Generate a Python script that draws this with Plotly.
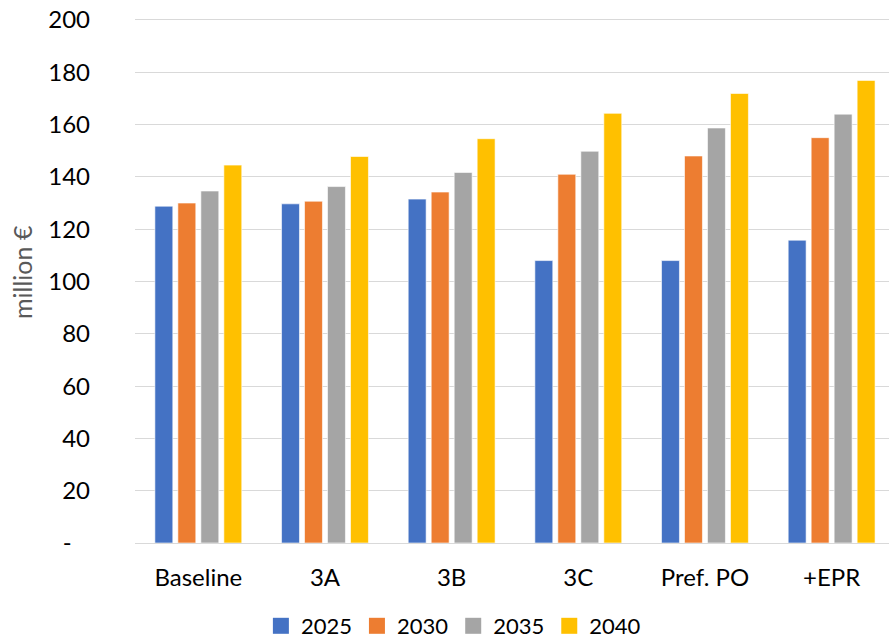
import plotly.graph_objects as go

categories = ["Baseline", "3A", "3B", "3C", "Pref. PO", "+EPR"]
series_names = ["2025", "2030", "2035", "2040"]
values_2025 = [128.8, 129.7, 131.5, 108.0, 108.0, 115.8]
values_2030 = [130.0, 130.7, 134.2, 141.0, 148.0, 155.0]
values_2035 = [134.6, 136.3, 141.7, 149.8, 158.7, 164.0]
values_2040 = [144.5, 147.8, 154.6, 164.3, 171.9, 176.9]
colors = ["#4472C4", "#ED7D31", "#A5A5A5", "#FFC000"]

tick_vals = [0, 20, 40, 60, 80, 100, 120, 140, 160, 180, 200]
tick_text = ["-\u00a0\u00a0\u00a0", "20", "40", "60", "80", "100", "120", "140", "160", "180", "200"]
y_title = "million €"

all_values = [values_2025, values_2030, values_2035, values_2040]

fig = go.Figure()
for name, vals, col in zip(series_names, all_values, colors):
    fig.add_trace(go.Bar(
        x=categories, y=vals, name=name, showlegend=False, legendgroup=name,
        marker=dict(color=col, line=dict(color="rgba(255,255,255,0.6)", width=1)),
    ))
# legend entries with larger square swatches
for name, col in zip(series_names, colors):
    fig.add_trace(go.Scatter(
        x=[None], y=[None], mode="markers", name=name, legendgroup=name,
        marker=dict(symbol="square", size=16, color=col),
    ))

FONT = "Lato, 'Open Sans', sans-serif"

fig.update_layout(
    width=889, height=641,
    margin=dict(l=135, r=0, t=18, b=98, autoexpand=False),
    paper_bgcolor="white", plot_bgcolor="white",
    barmode="group", bargap=0.274, bargroupgap=0.22,
    font=dict(family=FONT, size=24, color="#000000"),
    legend=dict(orientation="h", xref="container", yref="container",
                x=0.51, xanchor="center", y=0.0234, yanchor="middle",
                font=dict(family=FONT, size=22, color="#000000"),
                itemclick=False, itemwidth=30),
    showlegend=True,
    annotations=[dict(
        text=y_title, textangle=-90, xref="paper", yref="paper",
        x=-0.150, y=0.516, xanchor="center", yanchor="middle", showarrow=False,
        font=dict(family=FONT, size=25, color="#595959"),
    )],
)
fig.update_xaxes(
    range=[-0.5, 5.453], showgrid=False, showline=False, zeroline=False,
    ticks="", tickfont=dict(family=FONT, size=24, color="#000000"),
    ticklabelstandoff=18, automargin=False,
)
fig.update_yaxes(
    range=[0, 200.76], tickvals=tick_vals, ticktext=tick_text,
    showgrid=True, gridcolor="#D9D9D9", gridwidth=1.3,
    zeroline=True, zerolinecolor="#D9D9D9", zerolinewidth=1.3,
    showline=False, ticks="", automargin=False,
    tickfont=dict(family=FONT, size=24, color="#000000"),
    ticklabelstandoff=44,
)

# remove the browser's default 8px body margin so the figure fills the window
fig.write_html("out.html", config={"displayModeBar": False},
               post_script="document.body.style.margin='0px';")
